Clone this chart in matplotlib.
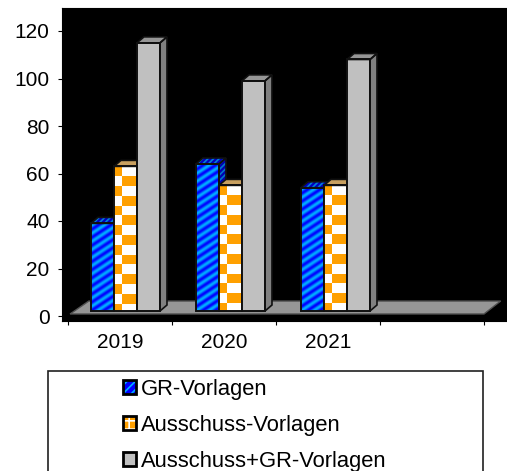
import matplotlib
matplotlib.use("Agg")
import matplotlib.pyplot as plt
import numpy as np
from matplotlib.legend_handler import HandlerTuple
from matplotlib.patches import Patch, Polygon, Rectangle

years = ["2019", "2020", "2021"]
gr_vorlagen = [39, 64, 54]
ausschuss_vorlagen = [63, 55, 55]
ausschuss_gr_vorlagen = [115, 99, 108]
series_names = ["GR-Vorlagen", "Ausschuss-Vorlagen", "Ausschuss+GR-Vorlagen"]
y_ticks = [0, 20, 40, 60, 80, 100, 120]

plt.rcParams["font.family"] = ["Liberation Sans", "DejaVu Sans"]
plt.rcParams["hatch.linewidth"] = 1.2

W, H = 507, 471
PX_X = 104.0    # px per category
PX_Y = 2.375    # px per value unit
BAR_W = 23 / PX_X
DX = 7 / PX_X
DY = 6 / PX_Y
BASE = 2.1
GROUP_STEP = 105 / PX_X

fig = plt.figure(figsize=(W / 100, H / 100), dpi=100, facecolor="white")
ax = fig.add_axes([62 / W, 1 - 321 / H, 445 / W, 313 / H], facecolor="black")


def stripes(col_a, col_b, px_w, px_h):
    # diagonal stripe texture for the blue bars
    cols, rows = np.meshgrid(np.arange(px_w), np.arange(px_h))
    t = (np.sin((rows + 0.65 * cols) * 2 * np.pi / 8) + 1) / 2
    a, b = np.array(col_a), np.array(col_b)
    return (a + (b - a) * t[..., None]) / 255


def checker(x0, top, z):
    # two uneven columns, rows counted down from the bar top
    cell = 9.8 / PX_Y
    col_edges = [x0, x0 + 8 / PX_X, x0 + BAR_W]
    ax.add_patch(Rectangle((x0, BASE), BAR_W, top - BASE, fc="white", ec="none", zorder=z))
    for c in range(2):
        row = 0
        y = top
        while y > BASE:
            low = max(y - cell, BASE)
            if (row + c) % 2 == 0:
                ax.add_patch(Rectangle((col_edges[c], low), col_edges[c + 1] - col_edges[c],
                                       y - low, fc="#ffa000", ec="none", zorder=z))
            y -= cell
            row += 1


def draw_bar(x0, val, kind, z):
    x1 = x0 + BAR_W
    top_pts = [(x0, val), (x1, val), (x1 + DX, val + DY), (x0 + DX, val + DY)]
    side_pts = [(x1, BASE), (x1 + DX, BASE + DY), (x1 + DX, val + DY), (x1, val)]
    if kind == 0:
        ax.imshow(stripes((0, 0, 255), (0, 175, 255), 23, max(int((val - BASE) * PX_Y), 2)),
                  extent=(x0, x1, BASE, val), aspect="auto", interpolation="bilinear", zorder=z)
        ax.add_patch(Polygon(side_pts, fc="#0000b0", ec="#0078c8", hatch="//////", lw=0, zorder=z))
        ax.add_patch(Polygon(top_pts, fc="#0000c0", ec="#0080d8", hatch="//////", lw=0, zorder=z))
    elif kind == 1:
        checker(x0, val, z)
        ax.add_patch(Polygon(side_pts, fc="#a87000", ec="none", zorder=z))
        ax.add_patch(Polygon(top_pts, fc="#c8a060", ec="none", zorder=z))
    else:
        ax.add_patch(Rectangle((x0, BASE), BAR_W, val - BASE, fc="#c0c0c0", ec="none", zorder=z))
        ax.add_patch(Polygon(side_pts, fc="#808080", ec="none", zorder=z))
        ax.add_patch(Polygon(top_pts, fc="#969696", ec="none", zorder=z))
    # outlines on top of the fills
    ax.add_patch(Rectangle((x0, BASE), BAR_W, val - BASE, fill=False, ec="#101010", lw=1.4, zorder=z + 0.5))
    ax.add_patch(Polygon(side_pts, fill=False, ec="#101010", lw=1.2, zorder=z + 0.5))
    ax.add_patch(Polygon(top_pts, fill=False, ec="#101010", lw=1.2, zorder=z + 0.5))


# floor of the fake 3d chart
floor = [(0.02, 0.85), (4.0, 0.85), (4.16, 6.3), (0.2, 6.3)]
ax.add_patch(Polygon(floor, fc="#969696", ec="#505050", lw=1, zorder=1))

series = [gr_vorlagen, ausschuss_vorlagen, ausschuss_gr_vorlagen]
z = 2
for i in range(len(years)):
    for k, vals in enumerate(series):
        draw_bar(i * GROUP_STEP + 0.221 + k * BAR_W, vals[i], k, z)
        z += 1

ax.set_xlim(-6 / PX_X, 439 / PX_X)
ax.set_ylim(-5 / PX_Y, 308 / PX_Y)

ax.set_yticks(y_ticks)
ax.tick_params(axis="y", labelsize=15, length=3, width=0.8, pad=6)
ax.set_xticks(range(5))
ax.set_xticklabels([])
ax.tick_params(axis="x", which="major", length=3, width=0.8)
ax.set_xticks([i + 0.5 for i in range(len(years))], labels=years, minor=True)
ax.tick_params(axis="x", which="minor", length=0, labelsize=15, pad=8.5)

# legend box runs past the bottom of the picture
fig.add_artist(Rectangle((48 / W, -0.02), 435 / W, 1 - 371 / H + 0.02, transform=fig.transFigure,
                         fc="white", ec="#202020", lw=1.2))
edge = Patch(fill=False, ec="black", lw=2)
handles = [
    (Patch(fc="#0000ff", ec="#00b0ff", hatch="////", lw=0), edge),
    (Patch(fc="#ffa000", ec="white", hatch="++", lw=0), edge),
    (Patch(fc="#c0c0c0", ec="none"), edge),
]
fig.legend(handles, series_names, handler_map={tuple: HandlerTuple(ndivide=1, pad=0)},
           loc="upper left", bbox_to_anchor=(123 / W, 1 - 379 / H), frameon=False, fontsize=15.8,
           borderpad=0, borderaxespad=0, labelspacing=0.68, handlelength=0.58, handleheight=0.58,
           handletextpad=0.25)

fig.savefig("out.png", dpi=100)
